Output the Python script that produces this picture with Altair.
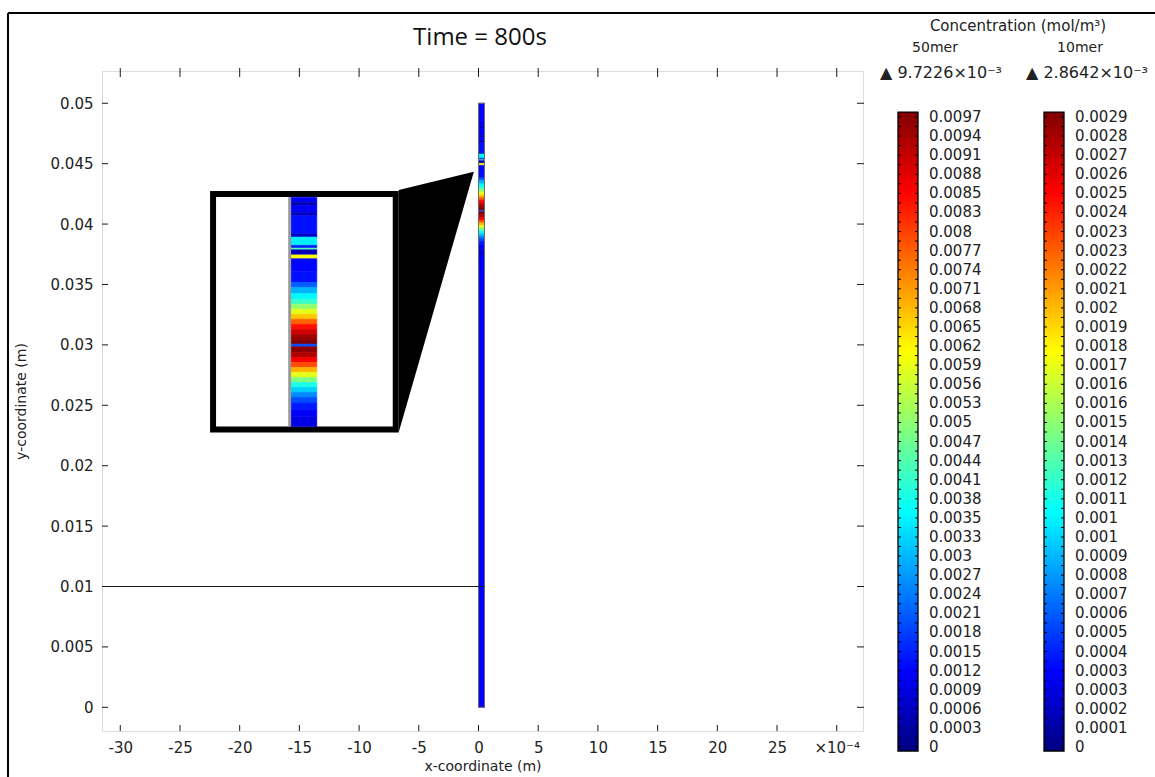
import altair as alt
import pandas as pd

# ---------------- axes (x in units of 1e-4 m, y in m) ----------------
X_DOMAIN = [-31.53, 32.2]
Y_DOMAIN = [-0.00196, 0.05267]
X_TICKS = [-30, -25, -20, -15, -10, -5, 0, 5, 10, 15, 20, 25, 30]
Y_TICKS = [0.0, 0.005, 0.01, 0.015, 0.02, 0.025, 0.03, 0.035, 0.04, 0.045, 0.05]

# ---------------- channel strip and its 50mer concentration profile ----------------
STRIP_X = [0.0, 0.5]
# cell edges along y (m), from the top of the channel down
PROFILE_EDGES = [0.050000, 0.048369, 0.048245, 0.048038, 0.047914, 0.047326, 0.047177,
                 0.046887, 0.046738, 0.045944, 0.045803, 0.045439, 0.045323, 0.045248,
                 0.045025, 0.044859, 0.044313, 0.043816, 0.043601, 0.043336, 0.043088,
                 0.042873, 0.042657, 0.042434, 0.042219, 0.041995, 0.041780, 0.041565,
                 0.041349, 0.041134, 0.041018, 0.040770, 0.040546, 0.040331, 0.040116,
                 0.039901, 0.039677, 0.039462, 0.039247, 0.039023, 0.038808, 0.038560,
                 0.038270, 0.037980, 0.037690, 0.037359, 0.036200, 0.0]
# concentration in each cell (mol/m^3)
PROFILE_CONC = [0.00126, 0.00049, 0.00117, 0.00058, 0.00117, 0.00049, 0.00117, 0.00058,
                0.00136, 0.00068, 0.00350, 0.00146, 0.00438, 0.00058, 0.00603, 0.00126,
                0.00136, 0.00214, 0.00292, 0.00360, 0.00418, 0.00506, 0.00583, 0.00661,
                0.00758, 0.00836, 0.00894, 0.00943, 0.00972, 0.00194, 0.00963, 0.00924,
                0.00856, 0.00778, 0.00681, 0.00583, 0.00486, 0.00389, 0.00321, 0.00253,
                0.00194, 0.00146, 0.00117, 0.00097, 0.00088, 0.00117, 0.00122]
LINE_Y = 0.01

# ---------------- colour bars ----------------
MAX_50 = 9.7226e-3
MAX_10 = 2.8642e-3
LABELS_50 = ["0.0097", "0.0094", "0.0091", "0.0088", "0.0085", "0.0083", "0.008", "0.0077",
             "0.0074", "0.0071", "0.0068", "0.0065", "0.0062", "0.0059", "0.0056", "0.0053",
             "0.005", "0.0047", "0.0044", "0.0041", "0.0038", "0.0035", "0.0033", "0.003",
             "0.0027", "0.0024", "0.0021", "0.0018", "0.0015", "0.0012", "0.0009", "0.0006",
             "0.0003", "0"]
LABELS_10 = ["0.0029", "0.0028", "0.0027", "0.0026", "0.0025", "0.0024", "0.0023", "0.0023",
             "0.0022", "0.0021", "0.002", "0.0019", "0.0018", "0.0017", "0.0016", "0.0016",
             "0.0015", "0.0014", "0.0013", "0.0012", "0.0011", "0.001", "0.001", "0.0009",
             "0.0008", "0.0007", "0.0006", "0.0005", "0.0004", "0.0003", "0.0003", "0.0002",
             "0.0001", "0"]
JET_COLORS = ["#000080", "#0000ff", "#00ffff", "#ffff00", "#ff0000", "#800000"]
JET_STOPS = [0.0, 0.125, 0.375, 0.625, 0.875, 1.0]

# ---------------- magnified inset ----------------
WINDOW_X = [-1.36, 1.90]          # region of the strip that is magnified
WINDOW_Y = [0.03753, 0.04754]
INSET_INNER_X = [-21.99, -7.18]   # where it is drawn
INSET_INNER_Y = [0.02323, 0.04222]
INSET_FRAME_X = [-22.23, -6.93]
INSET_FRAME_Y = [0.02300, 0.04248]
WEDGE_X = [-6.68, -0.39]
WEDGE_LO = [0.02276, 0.04434]
WEDGE_HI = [0.04282, 0.04434]

TITLE = "Time = 800s"

W, H = 761, 660
FONT = "DejaVu Sans"
TXT = "#222222"


def lin(v, a0, a1, b0, b1):
    return b0 + (v - a0) / (a1 - a0) * (b1 - b0)


cells = pd.DataFrame({
    "x": STRIP_X[0], "x2": STRIP_X[1],
    "y": PROFILE_EDGES[1:], "y2": PROFILE_EDGES[:-1],
    "conc": PROFILE_CONC,
})

inset_rows = []
for lo, hi, c in zip(PROFILE_EDGES[1:], PROFILE_EDGES[:-1], PROFILE_CONC):
    lo_c, hi_c = max(lo, WINDOW_Y[0]), min(hi, WINDOW_Y[1])
    if lo_c < hi_c:
        inset_rows.append({
            "x": lin(STRIP_X[0], *WINDOW_X, *INSET_INNER_X),
            "x2": lin(STRIP_X[1], *WINDOW_X, *INSET_INNER_X),
            "y": lin(lo_c, *WINDOW_Y, *INSET_INNER_Y),
            "y2": lin(hi_c, *WINDOW_Y, *INSET_INNER_Y),
            "conc": c,
        })
inset_cells = pd.DataFrame(inset_rows)
inset_left_edge = pd.DataFrame([{
    "x": inset_rows[0]["x"], "y": INSET_INNER_Y[0], "y2": INSET_INNER_Y[1]}])

xs = alt.Scale(domain=X_DOMAIN, nice=False, zero=False)
ys = alt.Scale(domain=Y_DOMAIN, nice=False, zero=False)
x_axis = alt.Axis(values=X_TICKS, ticks=False, domain=False, grid=False,
                  labelExpr="datum.value == 30 ? '×10⁻⁴' : toString(datum.value)",
                  labelFont=FONT, labelFontSize=15, labelColor=TXT, labelPadding=9,
                  title="x-coordinate (m)", titleFont=FONT, titleFontSize=14,
                  titleFontWeight="normal", titleColor=TXT, titlePadding=4)
y_axis = alt.Axis(values=Y_TICKS, ticks=False, domain=False, grid=False, format=".3~f",
                  labelFont=FONT, labelFontSize=15, labelColor=TXT, labelPadding=9,
                  title="y-coordinate (m)", titleFont=FONT, titleFontSize=14,
                  titleFontWeight="normal", titleColor=TXT, titlePadding=22)


def X(f="x"):
    return alt.X(f"{f}:Q", scale=xs, axis=x_axis)


def Y(f="y"):
    return alt.Y(f"{f}:Q", scale=ys, axis=y_axis)


jet_scale = alt.Scale(domain=[s * MAX_50 for s in JET_STOPS], range=JET_COLORS, interpolate="rgb")
color_50 = alt.Color("conc:Q", legend=None, scale=jet_scale)
stroke_50 = alt.Stroke("conc:Q", legend=None, scale=jet_scale)

# cells are stroked in their own colour so neighbouring cells close up without seams
strip = alt.Chart(cells).mark_rect(strokeWidth=0.6).encode(
    x=X(), x2="x2:Q", y=Y(), y2="y2:Q", color=color_50, stroke=stroke_50)
strip_outline = alt.Chart(pd.DataFrame([{"x": STRIP_X[0], "x2": STRIP_X[1],
                                         "y": PROFILE_EDGES[-1], "y2": PROFILE_EDGES[0]}])
                          ).mark_rect(fill=None, stroke="#6e6e6e", strokeWidth=1).encode(
    x=X(), x2="x2:Q", y=Y(), y2="y2:Q")
hline = alt.Chart(pd.DataFrame({"x": [X_DOMAIN[0]], "x2": [STRIP_X[1]], "y": [LINE_Y]})
                  ).mark_rule(color="#1a1a1a", strokeWidth=1).encode(x=X(), x2="x2:Q", y=Y())

inset_frame = alt.Chart(pd.DataFrame([{"x": INSET_FRAME_X[0], "x2": INSET_FRAME_X[1],
                                       "y": INSET_FRAME_Y[0], "y2": INSET_FRAME_Y[1]}])
                        ).mark_rect(fill="white", stroke="black", strokeWidth=6).encode(
    x=X(), x2="x2:Q", y=Y(), y2="y2:Q")
inset = alt.Chart(inset_cells).mark_rect(strokeWidth=0.6).encode(
    x=X(), x2="x2:Q", y=Y(), y2="y2:Q", color=color_50, stroke=stroke_50)
inset_edge = alt.Chart(inset_left_edge).mark_rule(color="#9a9a9a", strokeWidth=3).encode(
    x=X(), y=Y(), y2="y2:Q")
wedge = alt.Chart(pd.DataFrame({"x": WEDGE_X, "y": WEDGE_LO, "y2": WEDGE_HI})
                  ).mark_area(color="black", opacity=1, interpolate="linear").encode(
    x=X(), y=Y(), y2="y2:Q")

xt = pd.DataFrame({"x": X_TICKS})
yt = pd.DataFrame({"y": Y_TICKS})
tick_style = dict(color="#1a1a1a", strokeWidth=1)
ticks = [
    alt.Chart(xt).mark_rule(**tick_style).encode(x=X(), y=alt.value(H), y2=alt.value(H - 6)),
    alt.Chart(xt).mark_rule(**tick_style).encode(x=X(), y=alt.value(-3), y2=alt.value(6)),
    alt.Chart(yt).mark_rule(**tick_style).encode(y=Y(), x=alt.value(0), x2=alt.value(6)),
    alt.Chart(yt).mark_rule(**tick_style).encode(y=Y(), x=alt.value(W - 6), x2=alt.value(W + 1)),
]

main = alt.layer(strip, strip_outline, hline, inset_frame, inset, inset_edge, wedge, *ticks)

# ---------------- colour bars (index scale 0..33 for the labelled steps) ----------------
cb_scale = alt.Scale(domain=[0, 33], range=[676, 46], nice=False, zero=False)
gradient = alt.Gradient(
    gradient="linear", x1=0, x2=0, y1=1, y2=0,
    stops=[alt.GradientStop(offset=s, color=c) for s, c in zip(JET_STOPS, JET_COLORS)])
bar_df = pd.DataFrame({"lo": [-0.21], "hi": [33.26]})
one = pd.DataFrame({"a": [0]})

cb_layers = []
for x0, labels in ((796, LABELS_50), (942, LABELS_10)):
    cb_layers.append(alt.Chart(bar_df).mark_rect(fill=gradient, stroke="black", strokeWidth=1.3).encode(
        x=alt.value(x0), x2=alt.value(x0 + 20),
        y=alt.Y("lo:Q", scale=cb_scale, axis=None), y2="hi:Q"))
    tick_idx = pd.DataFrame({"i": [k * 0.5 for k in range(67)]})
    cb_layers.append(alt.Chart(tick_idx).mark_rule(color="black", strokeWidth=1).encode(
        x=alt.value(x0), x2=alt.value(x0 + 3), y=alt.Y("i:Q", scale=cb_scale, axis=None)))
    cb_layers.append(alt.Chart(tick_idx).mark_rule(color="black", strokeWidth=1).encode(
        x=alt.value(x0 + 17), x2=alt.value(x0 + 20), y=alt.Y("i:Q", scale=cb_scale, axis=None)))
    lab = pd.DataFrame({"i": list(range(33, -1, -1)), "label": labels})
    cb_layers.append(alt.Chart(lab).mark_text(
        align="left", baseline="middle", font=FONT, fontSize=15, color=TXT).encode(
        x=alt.value(x0 + 31), y=alt.Y("i:Q", scale=cb_scale, axis=None), text="label:N"))

head_style = dict(font=FONT, color=TXT, baseline="middle")
cb_layers += [
    alt.Chart(one).mark_text(text="Concentration (mol/m³)", align="center", fontSize=15,
                             **head_style).encode(x=alt.value(916), y=alt.value(-45)),
    alt.Chart(one).mark_text(text="50mer", align="center", fontSize=14,
                             **head_style).encode(x=alt.value(833), y=alt.value(-23)),
    alt.Chart(one).mark_text(text="10mer", align="center", fontSize=14,
                             **head_style).encode(x=alt.value(978), y=alt.value(-23)),
    alt.Chart(one).mark_text(text="▲ 9.7226×10⁻³", align="left", fontSize=16,
                             **head_style).encode(x=alt.value(778), y=alt.value(2)),
    alt.Chart(one).mark_text(text="▲ 2.8642×10⁻³", align="left", fontSize=16,
                             **head_style).encode(x=alt.value(924), y=alt.value(2)),
    # figure heading
    alt.Chart(one).mark_text(text=TITLE, align="center", baseline="middle", font="Open Sans",
                             fontSize=24, color="#111111").encode(x=alt.value(378), y=alt.value(-33)),
    # outer frame of the figure
    alt.Chart(one).mark_rule(color="black", strokeWidth=2).encode(
        x=alt.value(-94), y=alt.value(-58), y2=alt.value(720)),
    alt.Chart(one).mark_rule(color="black", strokeWidth=2).encode(
        x=alt.value(-94), x2=alt.value(1060), y=alt.value(-58)),
]
bars = alt.layer(*cb_layers)

chart = alt.layer(main, bars).resolve_scale(y="independent", color="shared").properties(
    width=W, height=H,
    autosize=alt.AutoSizeParams(type="none"),
    padding={"left": 102, "top": 71, "right": 292, "bottom": 46},
).configure_view(stroke="#1a1a1a", strokeWidth=1).configure(background="white")

chart.save("out.html", embed_options={"renderer": "svg", "actions": False})
